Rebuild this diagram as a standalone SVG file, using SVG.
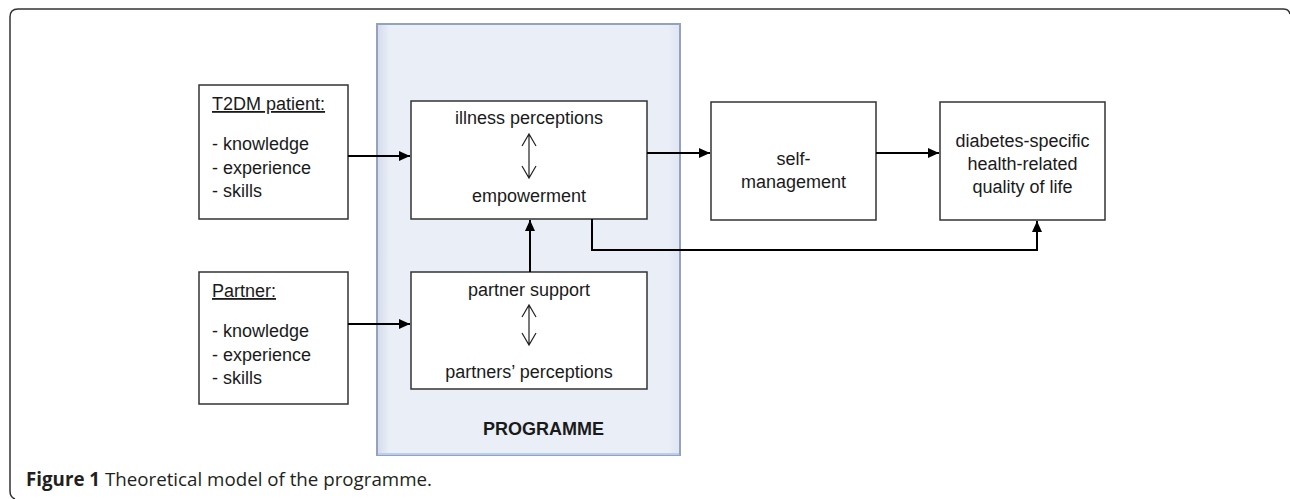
<svg xmlns="http://www.w3.org/2000/svg" width="1290" height="499" viewBox="0 0 1290 499">
<style>
.box{fill:#fff;stroke:#333;stroke-width:1.5}
.t{font-family:"Liberation Sans",Arial,sans-serif;font-size:18px;fill:#1a1a1a}
.c{text-anchor:middle}
.con{fill:none;stroke:#000;stroke-width:2}
.dbl{fill:none;stroke:#222;stroke-width:1.2}
.cap{font-family:"Open Sans","Noto Sans",sans-serif;font-size:19px;fill:#231f20}
</style>
<defs>
<marker id="ah" markerUnits="userSpaceOnUse" markerWidth="12" markerHeight="10" refX="11" refY="5" orient="auto">
<path d="M0,0 L11,5 L0,10 Z" fill="#000"/>
</marker>
<linearGradient id="pg" x1="0" y1="0" x2="1" y2="0">
<stop offset="0" stop-color="#d3dbeb"/>
<stop offset="0.04" stop-color="#e9eef7"/>
<stop offset="0.96" stop-color="#e9eef7"/>
<stop offset="1" stop-color="#dfe6f2"/>
</linearGradient>
</defs>
<rect width="1290" height="499" fill="#fff"/>
<path d="M1290,14 Q1289,9 1283,9 L18,9 Q10,9 10,17 L10,491 Q10,497 15,499" fill="none" stroke="#333" stroke-width="1.5"/>
<g id="programme">
<rect x="377" y="24" width="303" height="431" fill="url(#pg)" stroke="#95a2bd" stroke-width="2"/>
<line x1="378" y1="454" x2="679" y2="454" stroke="#b9cdec" stroke-width="2"/>
<text class="t c" x="543.5" y="435" font-weight="bold">PROGRAMME</text>
</g>
<g id="t2dm">
<rect class="box" x="199" y="85" width="149" height="134"/>
<text class="t" x="212" y="110" text-decoration="underline">T2DM patient:</text>
<text class="t" x="212" y="150">- knowledge</text>
<text class="t" x="212" y="173.5">- experience</text>
<text class="t" x="212" y="197">- skills</text>
</g>
<g id="partner">
<rect class="box" x="199" y="272" width="149" height="132"/>
<text class="t" x="212" y="297" text-decoration="underline">Partner:</text>
<text class="t" x="212" y="337">- knowledge</text>
<text class="t" x="212" y="361">- experience</text>
<text class="t" x="212" y="384">- skills</text>
</g>
<g id="illness">
<rect class="box" x="411" y="101" width="236" height="118"/>
<text class="t c" x="529" y="124">illness perceptions</text>
<path class="dbl" d="M529,134 V178 M522,146 L529,134 L536,146 M522,166 L529,178 L536,166"/>
<text class="t c" x="529" y="202">empowerment</text>
</g>
<g id="partnersupport">
<rect class="box" x="411" y="272" width="236" height="117"/>
<text class="t c" x="529" y="296">partner support</text>
<path class="dbl" d="M529,305 V345 M522,317 L529,305 L536,317 M522,333 L529,345 L536,333"/>
<text class="t c" x="529" y="378">partners’ perceptions</text>
</g>
<g id="selfmanagement">
<rect class="box" x="711" y="102" width="165" height="118"/>
<text class="t c" x="793.5" y="165">self-</text>
<text class="t c" x="793.5" y="188">management</text>
</g>
<g id="qol">
<rect class="box" x="940" y="102" width="165" height="118"/>
<text class="t c" x="1022.5" y="147">diabetes-specific</text>
<text class="t c" x="1022.5" y="170">health-related</text>
<text class="t c" x="1022.5" y="193">quality of life</text>
</g>
<g id="connectors">
<path class="con" d="M348,156 H410" marker-end="url(#ah)"/>
<path class="con" d="M348,324 H410" marker-end="url(#ah)"/>
<path class="con" d="M530,272 V220" marker-end="url(#ah)"/>
<path class="con" d="M647,153 H710" marker-end="url(#ah)"/>
<path class="con" d="M876,153 H939" marker-end="url(#ah)"/>
<path class="con" d="M592,219 V250 H1037 V221" marker-end="url(#ah)"/>
</g>
<text class="cap" x="26" y="486" textLength="406" lengthAdjust="spacingAndGlyphs"><tspan font-weight="bold">Figure 1</tspan> Theoretical model of the programme.</text>
</svg>
